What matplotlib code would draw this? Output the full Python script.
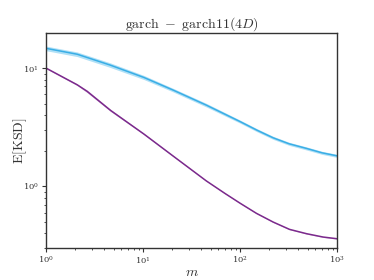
import numpy as np
import matplotlib
matplotlib.use('Agg')
import matplotlib.pyplot as plt

plt.rcParams['mathtext.fontset'] = 'cm'
plt.rcParams['font.family'] = 'serif'

# values (log-log)
m_blue = [1, 2.1, 4.6, 10.2, 20.5, 45, 100, 150, 220, 320, 486, 700, 1000]
ksd_blue = [14.7, 13.1, 10.6, 8.34, 6.51, 4.86, 3.53, 2.98, 2.57, 2.29, 2.09, 1.92, 1.81]
err_blue = [0.045, 0.045, 0.045, 0.04, 0.035, 0.035, 0.03, 0.03, 0.03, 0.03, 0.03, 0.03, 0.03]

m_purple = [1, 2.1, 2.66, 4.64, 10.2, 20.5, 45, 70, 100, 148, 220, 324, 486, 720, 1000]
ksd_purple = [10.0, 7.22, 6.35, 4.38, 2.77, 1.80, 1.11, 0.87, 0.72, 0.59, 0.498, 0.432, 0.397, 0.372, 0.36]
err_purple = [0.01, 0.015, 0.025, 0.02, 0.012, 0.01, 0.008, 0.008, 0.008, 0.008, 0.008, 0.008, 0.008, 0.008, 0.008]

fig = plt.figure(figsize=(3.74, 2.8), dpi=100)
ax = fig.add_axes([0.123, 0.114, 0.778, 0.768])

for m, y, e, c, fc in [(m_blue, ksd_blue, err_blue, '#3aaee6', '#8fd3f3'),
                       (m_purple, ksd_purple, err_purple, '#7b2a8c', '#c79bd1')]:
    m = np.array(m); y = np.array(y); e = np.array(e)
    ax.fill_between(m, y * (1 - e), y * (1 + e), color=fc, alpha=0.7, lw=0)
    ax.plot(m, y, color=c, lw=1.1)

ax.set_xscale('log')
ax.set_yscale('log')
ax.set_xlim(1, 1000)
ax.set_ylim(0.3, 19.8)

ax.set_title(r'$\mathrm{garch}\ -\ \mathrm{garch11}(4D)$', fontsize=10, color='#333333', pad=3)
ax.set_ylabel(r'$\mathrm{E}[\mathrm{KSD}]$', fontsize=10, color='#333333', labelpad=-4)
ax.set_xlabel(r'$m$', fontsize=10, color='#333333', labelpad=-1)

for s in ax.spines.values():
    s.set_color('#333333')
    s.set_linewidth(1.0)
ax.tick_params(which='major', length=3, width=0.8, labelsize=6, colors='#333333', pad=2)
ax.tick_params(which='minor', length=1.5, width=0.6, colors='#333333')

fig.savefig('out.png', dpi=100)
